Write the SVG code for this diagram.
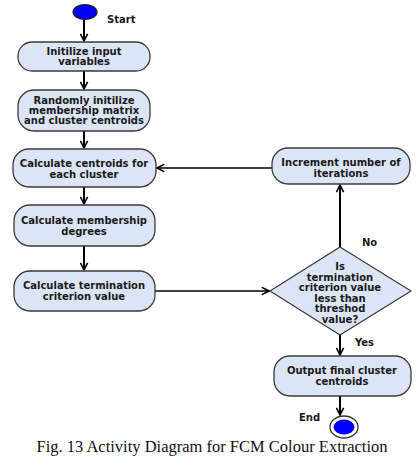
<svg xmlns="http://www.w3.org/2000/svg" width="417" height="470" viewBox="0 0 417 470">
<defs>
<style>
.box{fill:#dbe5f5;stroke:#3a3a3a;stroke-width:1.3}
.t{font-family:"DejaVu Sans",Verdana,sans-serif;font-weight:bold;font-size:10px;fill:#1a1a1a;text-anchor:middle}
.lbl{font-family:"DejaVu Sans",Verdana,sans-serif;font-weight:bold;font-size:10px;fill:#1a1a1a}
.v{fill:none;stroke:#000;stroke-width:2}
.h{fill:none;stroke:#000;stroke-width:1.3}
</style>
<marker id="ah" viewBox="0 0 10 10" refX="9" refY="5" markerWidth="9" markerHeight="9" markerUnits="userSpaceOnUse" orient="auto">
<path d="M1,1 L9,5 L1,9" fill="none" stroke="#000" stroke-width="1.8"/>
</marker>
</defs>
<rect width="417" height="470" fill="#fff"/>
<g id="connectors">
<line class="v" x1="84" y1="20" x2="84" y2="41" marker-end="url(#ah)"/>
<line class="v" x1="84" y1="71" x2="84" y2="89" marker-end="url(#ah)"/>
<line class="v" x1="84" y1="131" x2="84" y2="148" marker-end="url(#ah)"/>
<line class="v" x1="84" y1="187" x2="84" y2="204" marker-end="url(#ah)"/>
<line class="v" x1="84" y1="246" x2="84" y2="270" marker-end="url(#ah)"/>
<line class="h" x1="155" y1="291" x2="269" y2="291" marker-end="url(#ah)"/>
<line class="v" x1="340" y1="247" x2="340" y2="185" marker-end="url(#ah)"/>
<line class="h" x1="272" y1="168" x2="157" y2="168" marker-end="url(#ah)"/>
<line class="v" x1="340" y1="335" x2="340" y2="355" marker-end="url(#ah)"/>
<line class="v" x1="340" y1="396" x2="340" y2="415" marker-end="url(#ah)"/>
<text class="lbl" x="362" y="246">No</text>
<text class="lbl" x="355" y="346">Yes</text>
</g>
<g id="start">
<ellipse cx="85" cy="12" rx="12" ry="7.5" fill="#0000ff" stroke="#222" stroke-width="1.2"/>
<text class="lbl" x="107" y="23">Start</text>
</g>
<g id="init">
<rect class="box" x="18" y="42" width="132" height="29" rx="14"/>
<text class="t" x="84" y="55">Initilize input</text>
<text class="t" x="84" y="65">variables</text>
</g>
<g id="random">
<rect class="box" x="18" y="90" width="132" height="41" rx="16"/>
<text class="t" x="84" y="104">Randomly initilize</text>
<text class="t" x="84" y="114">membership matrix</text>
<text class="t" x="84" y="124">and cluster centroids</text>
</g>
<g id="centroids">
<rect class="box" x="13" y="149" width="143" height="38" rx="16"/>
<text class="t" x="84" y="167">Calculate centroids for</text>
<text class="t" x="84" y="178">each cluster</text>
</g>
<g id="membership">
<rect class="box" x="14" y="205" width="141" height="41" rx="16"/>
<text class="t" x="84" y="224">Calculate membership</text>
<text class="t" x="84" y="235">degrees</text>
</g>
<g id="termination">
<rect class="box" x="14" y="271" width="141" height="40" rx="16"/>
<text class="t" x="84" y="289">Calculate termination</text>
<text class="t" x="84" y="300">criterion value</text>
</g>
<g id="decision">
<polygon points="340,247 411,291 340,335 270,291" fill="#dbe5f5" stroke="#3a3a3a" stroke-width="1.2"/>
<text class="t" x="340" y="270">Is</text>
<text class="t" x="340" y="281">termination</text>
<text class="t" x="340" y="291">criterion value</text>
<text class="t" x="340" y="302">less than</text>
<text class="t" x="340" y="312">threshod</text>
<text class="t" x="340" y="323">value?</text>
</g>
<g id="increment">
<rect class="box" x="272" y="148" width="138" height="36" rx="16"/>
<text class="t" x="341" y="166">Increment number of</text>
<text class="t" x="341" y="177">iterations</text>
</g>
<g id="output">
<rect class="box" x="274" y="356" width="137" height="40" rx="16"/>
<text class="t" x="342" y="374">Output final cluster</text>
<text class="t" x="342" y="385">centroids</text>
</g>
<g id="end">
<ellipse cx="344" cy="427" rx="14" ry="11" fill="#fff" stroke="#333" stroke-width="1.3"/>
<ellipse cx="344" cy="427" rx="10.5" ry="7.5" fill="#0000ff"/>
<text class="lbl" x="299" y="421">End</text>
</g>
<text x="212" y="452" font-family="'Liberation Serif','Times New Roman',serif" font-size="16.5" fill="#111" text-anchor="middle">Fig. 13 Activity Diagram for FCM Colour Extraction</text>
</svg>
